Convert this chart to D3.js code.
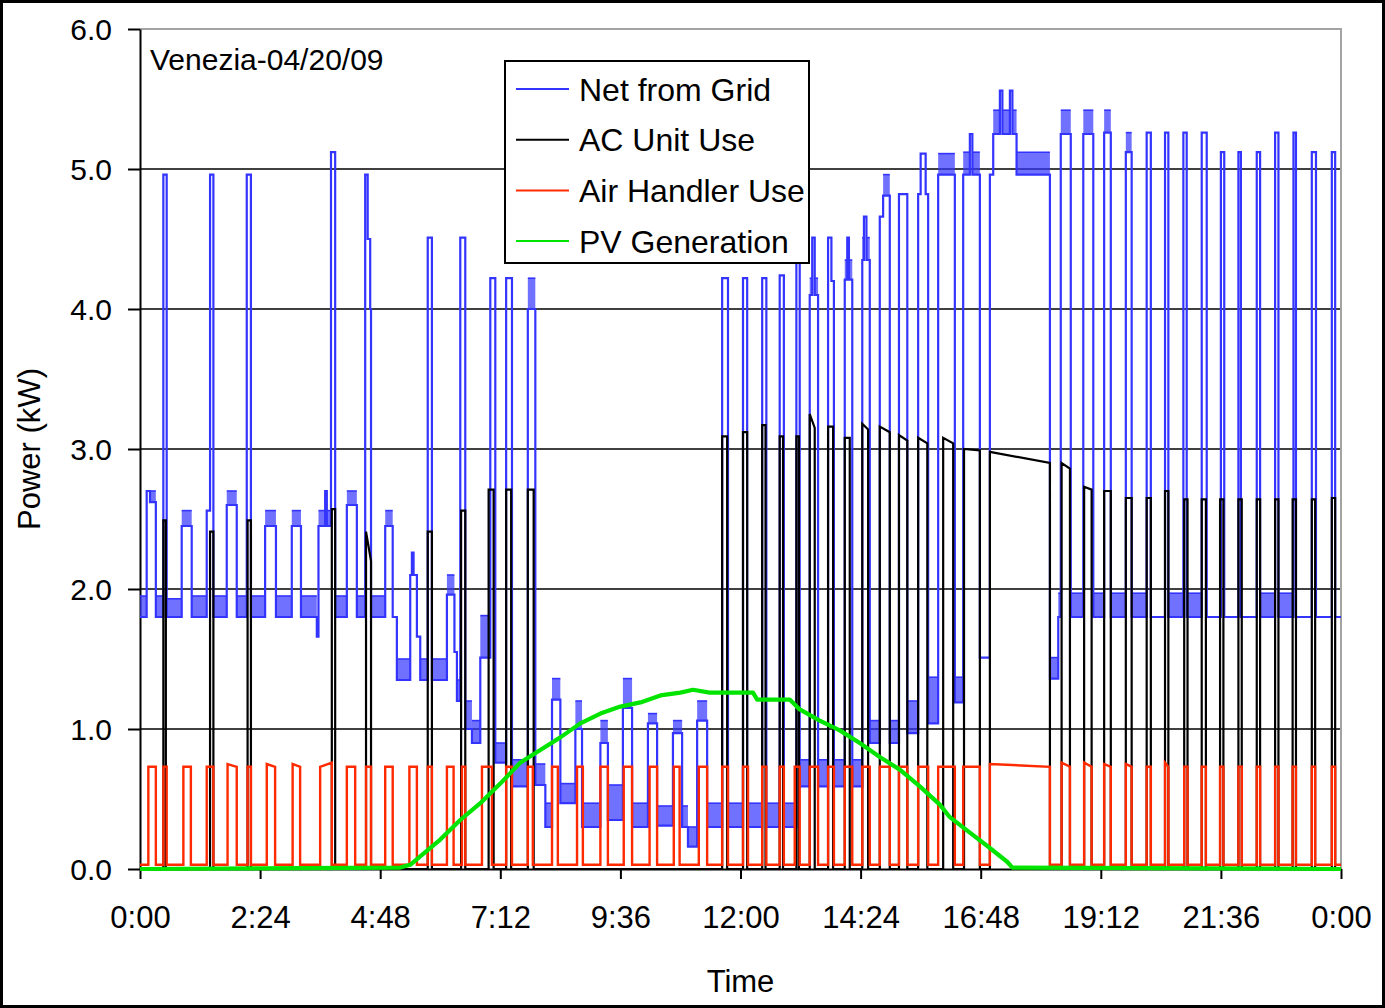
<!DOCTYPE html>
<html>
<head>
<meta charset="utf-8">
<script src="https://cdn.jsdelivr.net/npm/d3@7"></script>
<style>
  html, body { margin: 0; padding: 0; background: #fff; }
  svg { display: block; font-family: "Liberation Sans", Arial, sans-serif; }
</style>
</head>
<body>
<svg id="chart" width="1385" height="1008"></svg>
<script>
// Times are minutes after midnight, power is kW.
const xTickMinutes = [0, 144, 288, 432, 576, 720, 864, 1008, 1152, 1296, 1440];
const xTickLabels = ["0:00", "2:24", "4:48", "7:12", "9:36", "12:00", "14:24", "16:48", "19:12", "21:36", "0:00"];
const yTickValues = [0, 1, 2, 3, 4, 5, 6];
const yTickLabels = ["0.0", "1.0", "2.0", "3.0", "4.0", "5.0", "6.0"];

const chartTitle = "Venezia-04/20/09";
const xTitle = "Time";
const yTitle = "Power (kW)";

const seriesNames = ["Net from Grid", "AC Unit Use", "Air Handler Use", "PV Generation"];
const seriesColors = ["#3434ff", "#000000", "#ff2a00", "#00e400"];

// Net from grid as steps: [start minute, kW, upper edge of the fluctuation band or null]
const gridSteps = [
  [0, 1.80, 1.95], [8, 2.70, null], [12, 2.62, 2.70], [19, 1.80, 1.95],
  [28, 4.96, null], [32, 1.80, 1.93], [50, 2.45, 2.56], [62, 1.80, 1.95],
  [80, 2.56, null], [84, 4.96, null], [88, 1.80, 1.95], [104, 2.60, 2.70],
  [116, 1.80, 1.95], [128, 4.96, null], [133, 1.80, 1.95], [150, 2.45, 2.56],
  [163, 1.80, 1.95], [182, 2.45, 2.56], [193, 1.80, 1.95], [212, 1.66, null],
  [214, 2.45, 2.56], [222, 2.70, null], [224, 2.45, 2.56], [229, 5.12, null],
  [234, 1.80, 1.95], [248, 2.60, 2.70], [260, 1.80, 1.95], [270, 4.96, null],
  [273, 4.50, null], [276, 4.00, null], [277, 1.80, 1.95], [294, 2.45, 2.56],
  [303, 1.80, null], [308, 1.35, 1.50], [324, 2.10, null], [326, 2.26, null],
  [328, 2.10, null], [332, 1.66, null], [336, 1.35, 1.50], [345, 4.51, null],
  [350, 1.35, 1.50], [368, 1.96, 2.10], [377, 1.55, null], [380, 1.20, 1.35],
  [384, 4.51, null], [390, 1.00, 1.20], [398, 0.90, 1.06], [408, 1.51, 1.81],
  [420, 4.22, null], [426, 0.76, 0.90], [439, 4.22, null], [446, 0.59, 0.78],
  [465, 4.00, 4.22], [474, 0.60, 0.75], [486, 0.30, 0.47], [494, 1.21, 1.36],
  [504, 0.47, 0.61], [522, 1.00, 1.20], [530, 0.30, 0.47], [552, 0.90, 1.06],
  [561, 0.35, 0.60], [579, 1.15, 1.36], [590, 0.30, 0.47], [609, 1.04, 1.11],
  [620, 0.31, 0.45], [639, 0.97, 1.06], [650, 0.30, 0.45], [657, 0.16, 0.30],
  [668, 1.06, 1.20], [680, 0.30, 0.47], [698, 4.22, null], [705, 0.30, 0.47],
  [723, 4.22, null], [728, 0.30, 0.47], [746, 4.22, null], [751, 0.30, 0.47],
  [767, 4.24, null], [772, 0.30, 0.47], [787, 4.51, null], [791, 0.59, 0.78],
  [803, 4.10, 4.22], [806, 4.51, null], [809, 4.10, 4.22], [813, 0.59, 0.78],
  [825, 4.51, null], [829, 4.20, null], [832, 0.59, 0.78], [845, 4.21, 4.35],
  [848, 4.51, null], [850, 4.21, 4.35], [854, 0.59, 0.78], [866, 4.35, 4.51],
  [868, 4.66, null], [871, 4.35, 4.51], [875, 0.90, 1.06], [887, 4.66, null],
  [891, 4.81, 4.96], [899, 0.90, 1.06], [910, 4.82, null], [920, 0.97, 1.20],
  [933, 4.82, null], [936, 5.11, null], [942, 4.82, null], [945, 1.04, 1.37],
  [957, 4.96, 5.11], [977, 1.19, 1.37], [987, 4.96, 5.12], [995, 5.25, null],
  [998, 4.96, 5.12], [1007, 1.51, null], [1019, 4.96, null], [1023, 5.25, 5.42],
  [1031, 5.56, null], [1034, 5.25, 5.42], [1043, 5.56, null], [1046, 5.25, 5.42],
  [1051, 4.96, 5.12], [1091, 1.36, 1.51], [1101, 1.80, 1.97], [1104, 5.25, 5.42],
  [1116, 1.80, 1.97], [1131, 5.25, 5.42], [1143, 1.80, 1.97], [1156, 5.26, 5.42],
  [1164, 1.80, 1.97], [1182, 5.12, 5.26], [1189, 1.80, 1.97], [1207, 5.26, null],
  [1212, 1.80, null], [1229, 5.26, null], [1233, 1.80, 1.97], [1251, 5.26, null],
  [1255, 1.80, 1.97], [1273, 5.26, null], [1279, 1.80, null], [1296, 5.12, null],
  [1300, 1.80, null], [1317, 5.12, null], [1320, 1.80, null], [1339, 5.12, null],
  [1343, 1.80, 1.97], [1361, 5.26, null], [1365, 1.80, 1.97], [1383, 5.26, null],
  [1386, 1.80, null], [1405, 5.12, null], [1410, 1.80, null], [1429, 5.12, null],
  [1433, 1.80, null]
];

// AC compressor cycles: [on minute, off minute, kW at start, kW at end]
const acCycles = [
  [28, 31, 2.49, 2.49], [84, 88, 2.41, 2.41], [129, 133, 2.49, 2.49], [230, 234, 2.57, 2.57],
  [271, 277, 2.41, 2.20], [345, 350, 2.41, 2.41], [385, 390, 2.56, 2.56], [418, 424, 2.71, 2.71],
  [439, 445, 2.71, 2.71], [465, 472, 2.71, 2.71], [698, 704, 3.09, 3.09], [723, 728, 3.12, 3.12],
  [746, 750, 3.17, 3.17], [767, 771, 3.09, 3.09], [787, 790, 3.09, 3.09], [803, 809, 3.25, 3.15],
  [825, 831, 3.16, 3.16], [845, 851, 3.08, 3.08], [866, 873, 3.18, 3.14], [887, 899, 3.16, 3.12],
  [910, 920, 3.10, 3.06], [933, 944, 3.08, 3.04], [963, 975, 3.08, 3.04], [988, 1007, 3.00, 2.99],
  [1019, 1091, 2.98, 2.90], [1105, 1115, 2.90, 2.86], [1132, 1141, 2.73, 2.71], [1156, 1164, 2.70, 2.70],
  [1182, 1189, 2.65, 2.65], [1207, 1212, 2.65, 2.65], [1229, 1233, 2.70, 2.70], [1252, 1256, 2.64, 2.64],
  [1273, 1278, 2.64, 2.64], [1295, 1299, 2.64, 2.64], [1317, 1321, 2.64, 2.64], [1339, 1343, 2.64, 2.64],
  [1361, 1365, 2.64, 2.64], [1382, 1386, 2.64, 2.64], [1405, 1409, 2.64, 2.64], [1429, 1433, 2.65, 2.65]
];
const acIdle = [0.0];

// Air handler fan cycles: [on minute, off minute, kW at start, kW at end]
const ahCycles = [
  [10, 19, 0.73, 0.73], [28, 32, 0.73, 0.73], [52, 61, 0.73, 0.73], [80, 88, 0.73, 0.73],
  [105, 116, 0.75, 0.73], [129, 133, 0.73, 0.73], [152, 162, 0.75, 0.73], [183, 192, 0.75, 0.73],
  [216, 230, 0.73, 0.76], [248, 258, 0.73, 0.73], [271, 277, 0.73, 0.73], [294, 303, 0.73, 0.73],
  [323, 332, 0.73, 0.73], [345, 350, 0.73, 0.73], [368, 376, 0.73, 0.73], [386, 390, 0.73, 0.73],
  [410, 422, 0.73, 0.73], [439, 446, 0.73, 0.73], [465, 471, 0.73, 0.73], [494, 501, 0.73, 0.73],
  [524, 531, 0.73, 0.73], [552, 561, 0.73, 0.73], [580, 590, 0.73, 0.73], [611, 620, 0.73, 0.73],
  [640, 647, 0.73, 0.73], [670, 680, 0.73, 0.73], [698, 705, 0.73, 0.73], [723, 729, 0.73, 0.73],
  [746, 751, 0.73, 0.73], [767, 772, 0.73, 0.73], [785, 791, 0.73, 0.73], [803, 813, 0.73, 0.73],
  [825, 832, 0.73, 0.73], [845, 854, 0.73, 0.73], [866, 875, 0.73, 0.73], [887, 899, 0.73, 0.73],
  [910, 920, 0.73, 0.73], [933, 945, 0.73, 0.73], [957, 977, 0.73, 0.73], [987, 1007, 0.73, 0.73],
  [1019, 1091, 0.75, 0.73], [1105, 1115, 0.76, 0.73], [1132, 1141, 0.76, 0.73], [1156, 1164, 0.75, 0.73],
  [1182, 1189, 0.75, 0.73], [1207, 1212, 0.73, 0.73], [1229, 1233, 0.76, 0.73], [1252, 1256, 0.73, 0.73],
  [1273, 1278, 0.73, 0.73], [1295, 1299, 0.73, 0.73], [1317, 1321, 0.73, 0.73], [1339, 1343, 0.73, 0.73],
  [1361, 1365, 0.73, 0.73], [1382, 1386, 0.73, 0.73], [1405, 1409, 0.73, 0.73], [1429, 1433, 0.73, 0.73]
];
const ahIdle = [0.03];

// Photovoltaic output
const pvMinutes = [0, 312, 324, 336, 360, 384, 408, 432, 456, 480, 504, 528, 552, 576, 600,
  624, 648, 663, 683, 735, 740, 779, 791, 815, 839, 863, 887, 911, 935, 959, 971, 995,
  1019, 1040, 1046, 1440];
const pvPower = [0, 0.01, 0.03, 0.09, 0.21, 0.35, 0.47, 0.61, 0.76, 0.85, 0.94, 1.04, 1.11, 1.16, 1.19,
  1.24, 1.26, 1.28, 1.26, 1.26, 1.21, 1.21, 1.14, 1.06, 0.99, 0.90, 0.80, 0.71, 0.59, 0.46, 0.37, 0.26,
  0.15, 0.05, 0.01, 0];

// ---------------------------------------------------------------------------
const W = 1385, H = 1008;
const plot = { left: 140, right: 1341, top: 29, bottom: 869 };
const svg = d3.select("#chart");

const x = d3.scaleLinear().domain([0, 1440]).range([plot.left, plot.right]);
const y = d3.scaleLinear().domain([0, 6]).range([plot.bottom, plot.top]);

// outer frame
svg.append("rect")
  .attr("x", 1.5).attr("y", 1.5).attr("width", W - 3).attr("height", H - 3)
  .attr("fill", "#fff").attr("stroke", "#000").attr("stroke-width", 3);

// horizontal gridlines
svg.append("g").selectAll("line")
  .data(yTickValues.filter(v => v > 0 && v < 6))
  .join("line")
  .attr("x1", plot.left).attr("x2", plot.right)
  .attr("y1", d => y(d)).attr("y2", d => y(d))
  .attr("stroke", "#000").attr("stroke-width", 1.5);

// plot area top and right edges
svg.append("path")
  .attr("d", `M${plot.left},${y(6)}H${plot.right}V${y(0)}`)
  .attr("fill", "none").attr("stroke", "#a3a3a3").attr("stroke-width", 2);

// axes
const yAxis = d3.axisLeft(y)
  .tickValues(yTickValues)
  .tickFormat((d, i) => yTickLabels[i])
  .tickSize(12).tickSizeOuter(0).tickPadding(16);
const gy = svg.append("g").attr("transform", `translate(${plot.left},0)`).call(yAxis);
gy.select(".domain").attr("stroke", "#000").attr("stroke-width", 2);
gy.selectAll(".tick line").attr("stroke", "#000").attr("stroke-width", 2);
gy.selectAll(".tick text").attr("font-size", 30).attr("fill", "#000")
  .attr("font-family", "Liberation Sans, Arial, sans-serif").attr("dy", "0.36em");

const xAxis = d3.axisBottom(x)
  .tickValues(xTickMinutes)
  .tickFormat((d, i) => xTickLabels[i])
  .tickSize(10).tickSizeOuter(0).tickPadding(27);
const gx = svg.append("g").attr("transform", `translate(0,${plot.bottom})`).call(xAxis);
gx.select(".domain").attr("stroke", "#000").attr("stroke-width", 2);
gx.selectAll(".tick line").attr("stroke", "#000").attr("stroke-width", 2);
gx.selectAll(".tick text").attr("font-size", 31).attr("fill", "#000")
  .attr("font-family", "Liberation Sans, Arial, sans-serif");

// net from grid: fluctuation bands
const bandSegs = [];
gridSteps.forEach((s, i) => {
  if (s[2] !== null) {
    const end = i + 1 < gridSteps.length ? gridSteps[i + 1][0] : 1440;
    bandSegs.push([[s[0], s[1], s[2]], [end, s[1], s[2]]]);
  }
});
const bandArea = d3.area().x(d => x(d[0])).y0(d => y(d[1])).y1(d => y(d[2]));
const bandTop = d3.line().x(d => x(d[0])).y(d => y(d[2]));
const gBand = svg.append("g");
gBand.selectAll("path.band").data(bandSegs).join("path")
  .attr("class", "band").attr("d", bandArea)
  .attr("fill", seriesColors[0]).attr("fill-opacity", 0.7);
gBand.selectAll("path.bandtop").data(bandSegs).join("path")
  .attr("class", "bandtop").attr("d", bandTop)
  .attr("fill", "none").attr("stroke", seriesColors[0]).attr("stroke-width", 1.6);

// net from grid: main trace
const gridPts = gridSteps.map(s => [s[0], s[1]]);
gridPts.push([1440, gridSteps[gridSteps.length - 1][1]]);
const stepLine = d3.line().x(d => x(d[0])).y(d => y(d[1])).curve(d3.curveStepAfter);
svg.append("path").attr("d", stepLine(gridPts))
  .attr("fill", "none").attr("stroke", seriesColors[0]).attr("stroke-width", 2.2);

// on/off equipment traces
function cycleTrace(cycles, idle) {
  const pts = [[0, idle]];
  cycles.forEach(([on, off, kwOn, kwOff]) => {
    pts.push([on, idle], [on, kwOn], [off, kwOff], [off, idle]);
  });
  pts.push([1440, idle]);
  return pts;
}
const plainLine = d3.line().x(d => x(d[0])).y(d => y(d[1]));

svg.append("path").attr("d", plainLine(cycleTrace(acCycles, acIdle[0])))
  .attr("fill", "none").attr("stroke", seriesColors[1]).attr("stroke-width", 2.2);

svg.append("path").attr("d", plainLine(cycleTrace(ahCycles, ahIdle[0])))
  .attr("fill", "none").attr("stroke", seriesColors[2]).attr("stroke-width", 2.4);

// PV generation
const pvPts = pvMinutes.map((m, i) => [m, pvPower[i]]);
svg.append("path").attr("d", plainLine(pvPts))
  .attr("fill", "none").attr("stroke", seriesColors[3]).attr("stroke-width", 4.2)
  .attr("stroke-linejoin", "round");

// titles
svg.append("text").attr("x", 150).attr("y", 70)
  .attr("font-size", 30).attr("fill", "#000").text(chartTitle);
svg.append("text").attr("x", (plot.left + plot.right) / 2).attr("y", 992)
  .attr("text-anchor", "middle").attr("font-size", 31).attr("fill", "#000").text(xTitle);
svg.append("text")
  .attr("transform", `translate(40,${(plot.top + plot.bottom) / 2}) rotate(-90)`)
  .attr("text-anchor", "middle").attr("font-size", 31).attr("fill", "#000").text(yTitle);

// legend
const legend = svg.append("g");
legend.append("rect")
  .attr("x", 505).attr("y", 61).attr("width", 304).attr("height", 202)
  .attr("fill", "#fff").attr("stroke", "#000").attr("stroke-width", 2);
const rows = legend.selectAll("g.row").data(seriesNames).join("g")
  .attr("class", "row")
  .attr("transform", (d, i) => `translate(0,${89 + i * 50.7})`);
rows.append("line")
  .attr("x1", 516).attr("x2", 569).attr("y1", 0).attr("y2", 0)
  .attr("stroke", (d, i) => seriesColors[i]).attr("stroke-width", 2);
rows.append("text")
  .attr("x", 579).attr("y", 11.5)
  .attr("font-size", 32).attr("fill", "#000").text(d => d);
</script>
</body>
</html>
